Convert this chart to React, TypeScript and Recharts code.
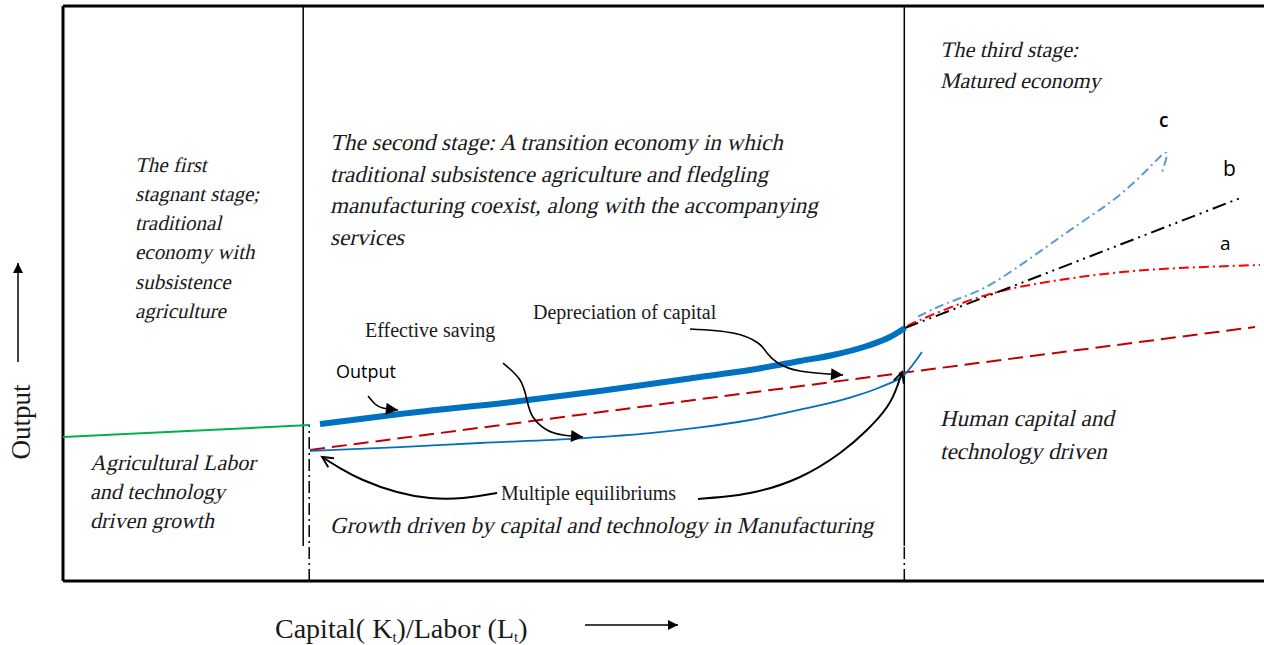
import React from 'react';
import { LineChart, Line, XAxis, YAxis, ReferenceLine } from 'recharts';

// x: capital / labor (0-100), y: output (0-100)
const stageBounds = [20, 70.05];

const agriculture = [
  { x: 0, y: 25.04 },
  { x: 20.57, y: 27.13 },
];

const output = [
  { x: 21.4, y: 27.3 },
  { x: 28.06, y: 29.04 },
  { x: 38.05, y: 31.3 },
  { x: 44.71, y: 33.04 },
  { x: 53.04, y: 35.48 },
  { x: 57.2, y: 36.7 },
  { x: 61.37, y: 38.26 },
  { x: 64.11, y: 39.3 },
  { x: 66.94, y: 40.87 },
  { x: 68.86, y: 42.43 },
  { x: 70.11, y: 44.0 },
];

const depreciation = [
  { x: 20.57, y: 22.8 },
  { x: 99.25, y: 44.17 },
];

const saving = [
  { x: 20.57, y: 22.61 },
  { x: 28.06, y: 23.3 },
  { x: 34.72, y: 24.0 },
  { x: 43.05, y: 24.8 },
  { x: 48.88, y: 25.7 },
  { x: 53.04, y: 26.7 },
  { x: 57.2, y: 28.0 },
  { x: 61.37, y: 29.8 },
  { x: 65.53, y: 31.9 },
  { x: 68.03, y: 33.7 },
  { x: 70.11, y: 36.0 },
  { x: 71.52, y: 39.83 },
];

const pathA = [
  { x: 70.3, y: 44.3 },
  { x: 71.36, y: 45.39 },
  { x: 76.35, y: 49.39 },
  { x: 81.93, y: 52.0 },
  { x: 87.43, y: 53.57 },
  { x: 93.0, y: 54.43 },
  { x: 99.67, y: 54.96 },
];

const pathB = [
  { x: 70.11, y: 44.0 },
  { x: 98.25, y: 66.78 },
];

const pathC = [
  { x: 71.2, y: 46.0 },
  { x: 73.58, y: 48.3 },
  { x: 76.35, y: 50.61 },
  { x: 79.13, y: 54.09 },
  { x: 81.91, y: 58.14 },
  { x: 84.68, y: 62.21 },
  { x: 87.45, y: 66.26 },
  { x: 89.68, y: 70.31 },
  { x: 91.07, y: 73.22 },
  { x: 91.9, y: 74.38 },
  { x: 91.48, y: 70.9 },
];

// annotation arrows
const arrowOutput = [
  { x: 25.4, y: 32.17 },
  { x: 25.98, y: 30.78 },
  { x: 26.64, y: 30.09 },
  { x: 27.89, y: 29.74 },
];
const arrowSaving = [
  { x: 36.64, y: 37.91 },
  { x: 38.05, y: 34.96 },
  { x: 38.63, y: 31.48 },
  { x: 39.13, y: 28.52 },
  { x: 40.3, y: 26.26 },
  { x: 41.63, y: 25.39 },
  { x: 43.3, y: 25.04 },
];
const arrowDepreciation = [
  { x: 52.21, y: 43.83 },
  { x: 55.79, y: 43.13 },
  { x: 57.87, y: 41.39 },
  { x: 58.62, y: 39.65 },
  { x: 59.53, y: 37.91 },
  { x: 61.37, y: 36.52 },
  { x: 64.95, y: 35.83 },
];
const arrowEqLeft = [
  { x: 36.14, y: 15.3 },
  { x: 33.31, y: 14.43 },
  { x: 30.56, y: 14.43 },
  { x: 27.81, y: 15.48 },
  { x: 24.98, y: 17.57 },
  { x: 23.06, y: 19.65 },
  { x: 22.23, y: 20.7 },
  { x: 21.57, y: 21.57 },
];
const arrowEqRight = [
  { x: 52.87, y: 14.26 },
  { x: 57.2, y: 15.3 },
  { x: 61.37, y: 18.09 },
  { x: 64.7, y: 22.26 },
  { x: 66.94, y: 26.26 },
  { x: 68.61, y: 30.26 },
  { x: 69.44, y: 33.74 },
  { x: 69.86, y: 36.35 },
];

const italicNotes = [
  { x: 135, y: 171.5, lh: 29.3, size: 21, lines: ['The first', 'stagnant stage;', 'traditional', 'economy with', 'subsistence', 'agriculture'] },
  { x: 330, y: 150, lh: 31.7, size: 23, lines: ['The second stage: A transition economy in which', 'traditional subsistence agriculture and fledgling', 'manufacturing coexist, along with the accompanying', 'services'] },
  { x: 940, y: 57, lh: 31, size: 22, lines: ['The third stage:', 'Matured economy'] },
  { x: 940, y: 426, lh: 33, size: 23, lines: ['Human capital and', 'technology driven'] },
  { x: 90, y: 470, lh: 29, size: 22, lines: ['Agricultural Labor', 'and technology', 'driven growth'] },
  { x: 330, y: 533, lh: 0, size: 23, lines: ['Growth driven by capital and technology in Manufacturing'] },
];

const plainNotes = [
  { x: 365, y: 337, text: 'Effective saving' },
  { x: 533, y: 319, text: 'Depreciation of capital' },
  { x: 501, y: 500, text: 'Multiple equilibriums' },
];

const sansNotes = [
  { x: 336, y: 378, text: 'Output', size: 18, weight: 400 },
  { x: 1159, y: 127, text: 'c', size: 19, weight: 600 },
  { x: 1223, y: 176, text: 'b', size: 21, weight: 400 },
  { x: 1220, y: 250, text: 'a', size: 19, weight: 400 },
];

const serif = '"Liberation Serif", "DejaVu Serif", serif';
const ink = '#1a1a1a';

const Overlay = () => (
  <svg width={1264} height={645} style={{ position: 'absolute', left: 0, top: 0, pointerEvents: 'none' }}>
    <defs>
      <marker id="headFill" viewBox="0 0 10 10" refX="10" refY="5" markerWidth="16" markerHeight="12" markerUnits="userSpaceOnUse" orient="auto">
        <path d="M0,0 L10,5 L0,10 z" fill="#000" />
      </marker>
      <marker id="headOpen" viewBox="0 0 10 10" refX="9" refY="5" markerWidth="16" markerHeight="12" markerUnits="userSpaceOnUse" orient="auto">
        <path d="M0,0.5 L9,5 L0,9.5" fill="none" stroke="#000" strokeWidth="1.6" />
      </marker>
      <marker id="axisHead" viewBox="0 0 10 10" refX="10" refY="5" markerWidth="13" markerHeight="10" markerUnits="userSpaceOnUse" orient="auto">
        <path d="M0,0 L10,5 L0,10 z" fill="#000" />
      </marker>
    </defs>
    {/* slanted serif, the installed serif fonts have no italic face */}
    {italicNotes.map((n, i) =>
      n.lines.map((l, j) => (
        <text
          key={'i' + i + '-' + j}
          transform={`translate(${n.x} ${n.y + j * n.lh}) skewX(-13)`}
          fontFamily={serif}
          fontSize={n.size}
          fill={ink}
        >
          {l}
        </text>
      ))
    )}
    {plainNotes.map((n, i) => (
      <text key={'p' + i} x={n.x} y={n.y} fontFamily={serif} fontSize={20} fill={ink}>{n.text}</text>
    ))}
    {sansNotes.map((n, i) => (
      <text key={'s' + i} x={n.x} y={n.y} fontFamily='"Open Sans", "Noto Sans", sans-serif' fontSize={n.size} fontWeight={n.weight} fill="#000">{n.text}</text>
    ))}
    <text transform="translate(30 422) rotate(-90)" textAnchor="middle" fontFamily={serif} fontSize={27} fill={ink}>Output</text>
    <line x1={18} y1={362} x2={18} y2={263} stroke="#000" strokeWidth={1.5} markerEnd="url(#axisHead)" />
    <text x={275} y={638} fontFamily={serif} fontSize={28} fill={ink}>
      Capital( K<tspan fontSize={15} dy={4}>t</tspan><tspan dy={-4}>)/Labor (L</tspan><tspan fontSize={15} dy={4}>t</tspan><tspan dy={-4}>)</tspan>
    </text>
    <line x1={585} y1={625} x2={678} y2={625} stroke="#000" strokeWidth={1.5} markerEnd="url(#axisHead)" />
  </svg>
);

const lineBase = { dataKey: 'y', dot: false, activeDot: false, isAnimationActive: false } as const;

export default function App() {
  return (
    <div style={{ position: 'fixed', left: 0, top: 0, width: 1264, height: 645, background: '#fff' }}>
      <LineChart width={1264} height={645} margin={{ top: 6, right: 0, left: 63, bottom: 64 }}>
        <XAxis type="number" dataKey="x" domain={[0, 100]} hide allowDataOverflow />
        <YAxis type="number" dataKey="y" domain={[0, 100]} hide allowDataOverflow />

        {/* frame */}
        <ReferenceLine segment={[{ x: 0, y: 0 }, { x: 0, y: 100 }]} stroke="#000" strokeWidth={3} ifOverflow="visible" />
        <ReferenceLine segment={[{ x: 0, y: 100 }, { x: 100.2, y: 100 }]} stroke="#000" strokeWidth={3} ifOverflow="visible" />
        <ReferenceLine segment={[{ x: 0, y: 0 }, { x: 100.2, y: 0 }]} stroke="#000" strokeWidth={3} ifOverflow="visible" />

        {/* stage boundaries */}
        <ReferenceLine segment={[{ x: stageBounds[0], y: 6.1 }, { x: stageBounds[0], y: 100 }]} stroke="#000" strokeWidth={1.5} ifOverflow="visible" />
        <ReferenceLine segment={[{ x: 20.5, y: 0 }, { x: 20.5, y: 27.1 }]} stroke="#000" strokeWidth={1.5} strokeDasharray="12 4 2 4" ifOverflow="visible" />
        <ReferenceLine segment={[{ x: stageBounds[1], y: 6.1 }, { x: stageBounds[1], y: 100 }]} stroke="#000" strokeWidth={1.5} ifOverflow="visible" />
        <ReferenceLine segment={[{ x: stageBounds[1], y: 0 }, { x: stageBounds[1], y: 6.1 }]} stroke="#000" strokeWidth={1.5} strokeDasharray="12 4 2 4" ifOverflow="visible" />

        <Line {...lineBase} data={agriculture} type="linear" stroke="#00B050" strokeWidth={2} />
        <Line {...lineBase} data={depreciation} type="linear" stroke="#C00000" strokeWidth={2} strokeDasharray="15 7" />
        <Line {...lineBase} data={saving} type="monotone" stroke="#0070C0" strokeWidth={1.8} />
        <Line {...lineBase} data={output} type="monotone" stroke="#0070C0" strokeWidth={6} />
        <Line {...lineBase} data={pathA} type="natural" stroke="#FF0000" strokeWidth={2} strokeDasharray="10 4 2 4" />
        <Line {...lineBase} data={pathB} type="linear" stroke="#000" strokeWidth={2} strokeDasharray="14 5 2 5 2 5" />
        <Line {...lineBase} data={pathC} type="natural" stroke="#5B9BD5" strokeWidth={2} strokeDasharray="9 4 2 4" />

        <Line {...lineBase} data={arrowOutput} type="natural" stroke="#000" strokeWidth={1.6} markerEnd="url(#headFill)" />
        <Line {...lineBase} data={arrowSaving} type="natural" stroke="#000" strokeWidth={1.6} markerEnd="url(#headFill)" />
        <Line {...lineBase} data={arrowDepreciation} type="natural" stroke="#000" strokeWidth={1.6} markerEnd="url(#headFill)" />
        <Line {...lineBase} data={arrowEqLeft} type="natural" stroke="#000" strokeWidth={2} markerEnd="url(#headOpen)" />
        <Line {...lineBase} data={arrowEqRight} type="natural" stroke="#000" strokeWidth={2} markerEnd="url(#headOpen)" />
      </LineChart>
      <Overlay />
    </div>
  );
}
